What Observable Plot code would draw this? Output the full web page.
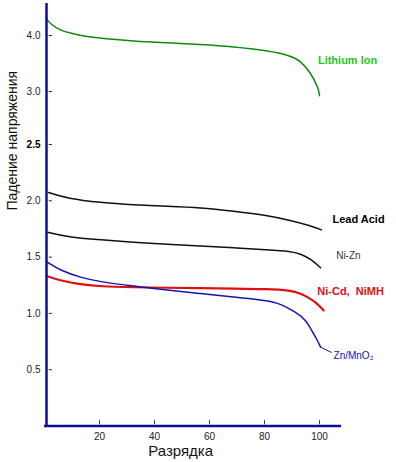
<!DOCTYPE html>
<html>
<head>
<meta charset="utf-8">
<script src="https://cdn.jsdelivr.net/npm/d3@7"></script>
<script src="https://cdn.jsdelivr.net/npm/@observablehq/plot@0.6"></script>
<style>
  html, body { margin: 0; padding: 0; background: #fff; }
  svg { font-family: Arial, "Liberation Sans", sans-serif; }
</style>
</head>
<body>
<div id="chart"></div>
<script>
// Discharge (%) and voltage values
const liIonX  = [0.5, 2.2, 5.8, 9.5, 14.9, 20.4, 32.4, 44.7, 56.7, 68.7, 81.1, 89.5, 93.1, 96.7, 99.6, 100];
const liIonY  = [4.31, 4.20, 4.09, 4.04, 3.98, 3.95, 3.90, 3.87, 3.84, 3.80, 3.73, 3.64, 3.55, 3.34, 3.07, 2.96];
const leadX   = [1.5, 8.4, 20.4, 32.4, 44.7, 56.7, 68.7, 81.1, 89.5, 96.7, 100.7];
const leadY   = [2.074, 2.02, 1.984, 1.964, 1.952, 1.94, 1.908, 1.87, 1.825, 1.778, 1.742];
const niZnX   = [1.1, 8.4, 20.4, 32.4, 44.7, 56.7, 68.7, 81.1, 89.5, 93.1, 96.7, 100.4];
const niZnY   = [1.721, 1.677, 1.654, 1.632, 1.612, 1.599, 1.583, 1.565, 1.552, 1.529, 1.485, 1.405];
const niCdX   = [1.1, 5.8, 13.1, 20.4, 32.4, 44.7, 56.7, 68.7, 81.1, 89.5, 93.1, 96.7, 99.3, 101.5];
const niCdY   = [1.33, 1.292, 1.257, 1.239, 1.233, 1.227, 1.226, 1.218, 1.218, 1.203, 1.179, 1.13, 1.085, 1.026];
const znMnX   = [1.1, 5.8, 13.1, 20.4, 32.4, 44.7, 56.7, 68.7, 81.1, 85.8, 91.3, 94.9, 97.5, 99.3, 100.4];
const znMnY   = [1.455, 1.381, 1.318, 1.28, 1.242, 1.208, 1.177, 1.144, 1.115, 1.085, 1.011, 0.948, 0.833, 0.759, 0.70];

const seriesNames  = ["Lithium Ion", "Lead Acid", "Ni-Zn", "Ni-Cd,\u00a0 NiMH", "Zn/MnO\u2082"];
const seriesColors = ["#22c822", "#000000", "#333333", "#e01010", "#1414b4"];
const labelX       = [110.2, 114.2, 110.5, 111.3, 105.1];
const labelY       = [3.55, 1.834, 1.514, 1.195, 0.626];

const yTicks = [0.5, 1.0, 1.5, 2.0, 2.5, 3.0, 4.0];
const yTicksBold = [2.5];
const xTicks = [20, 40, 60, 80, 100];
const xTitle = "Разрядка";
const yTitle = "Падение напряжения";
const leader = [{x1: 100.4, y1: 0.70, x2: 104.4, y2: 0.653}];
const yTop = 4.57, xEnd = 108;

const toRows = (xs, ys) => xs.map((x, i) => ({x, y: ys[i]}));
const li = toRows(liIonX, liIonY), lead = toRows(leadX, leadY), nizn = toRows(niZnX, niZnY),
      nicd = toRows(niCdX, niCdY), znmn = toRows(znMnX, znMnY);
const labels = seriesNames.map((name, i) => ({name, x: labelX[i], y: labelY[i], color: seriesColors[i]}));
const boldLabels = labels.filter((d, i) => i === 0 || i === 1 || i === 3);

const axisBlue = "#0c0ca0";
const font = "Arial, 'Liberation Sans', sans-serif";
const curve = "basis";

const chart = Plot.plot({
  width: 396,
  height: 462,
  marginTop: 0, marginRight: 0, marginBottom: 0, marginLeft: 0,
  style: {fontFamily: font, background: "#fff"},
  x: {type: "linear", domain: [0, xEnd], range: [44, 341], axis: null},
  y: {type: "linear", domain: [0, 2.5, 3, 4], range: [425.5, 144, 91, 35], axis: null},
  marks: [
    // y tick dashes and labels
    Plot.ruleY(yTicks, {y: d => d, x1: 1.7, x2: 2.9, stroke: "#333", strokeWidth: 1}),
    Plot.text(yTicks.filter(d => !yTicksBold.includes(d)), {x: 0, y: d => d, dx: -4, text: d => d.toFixed(1),
      textAnchor: "end", fontSize: 10, fill: "#222"}),
    Plot.text(yTicksBold, {x: 0, y: d => d, dx: -4, text: d => d.toFixed(1),
      textAnchor: "end", fontSize: 10, fill: "#000", fontWeight: "bold"}),
    // x ticks and labels
    Plot.ruleX(xTicks, {x: d => d, y1: 0.01, y2: 0.05, stroke: "#444", strokeWidth: 1}),
    Plot.text(xTicks, {x: d => d, y: 0, dy: 11, text: d => String(d), fontSize: 10, fill: "#222"}),
    // curves
    Plot.line(li,   {x: "x", y: "y", stroke: "#0f8a0f", strokeWidth: 1.5, curve}),
    Plot.line(lead, {x: "x", y: "y", stroke: "#111", strokeWidth: 1.5, curve}),
    Plot.line(nizn, {x: "x", y: "y", stroke: "#111", strokeWidth: 1.5, curve}),
    Plot.line(nicd, {x: "x", y: "y", stroke: "#e01010", strokeWidth: 2.2, curve}),
    Plot.line(znmn, {x: "x", y: "y", stroke: "#1414b4", strokeWidth: 1.5, curve}),
    Plot.link(leader, {x1: "x1", y1: "y1", x2: "x2", y2: "y2", stroke: "#1414b4", strokeWidth: 1}),
    // series labels
    Plot.text(boldLabels, {x: "x", y: "y", text: "name", textAnchor: "middle",
      fontSize: 11, fontWeight: "bold", fill: "color"}),
    Plot.text([labels[2]], {x: "x", y: "y", text: "name", textAnchor: "middle", fontSize: 10, fill: "color"}),
    Plot.text([labels[4]], {x: "x", y: "y", text: "name", textAnchor: "start", fontSize: 10, fill: "color"}),
    // axes lines
    Plot.ruleX([0], {x: d => d, y1: 0, y2: yTop, dx: 2, stroke: axisBlue, strokeWidth: 2.5}),
    Plot.ruleY([0], {y: d => d, x1: 0, x2: xEnd, stroke: axisBlue, strokeWidth: 2.5}),
    // axis titles
    Plot.text([xTitle], {x: 49.5, y: 0, dy: 25, text: d => d, fontSize: 15, fill: "#111"}),
    Plot.text([yTitle], {frameAnchor: "left", y: 1.914, dx: 12, rotate: -90, text: d => d, fontSize: 14, fill: "#111"})
  ]
});
document.getElementById("chart").appendChild(chart);
</script>
</body>
</html>
